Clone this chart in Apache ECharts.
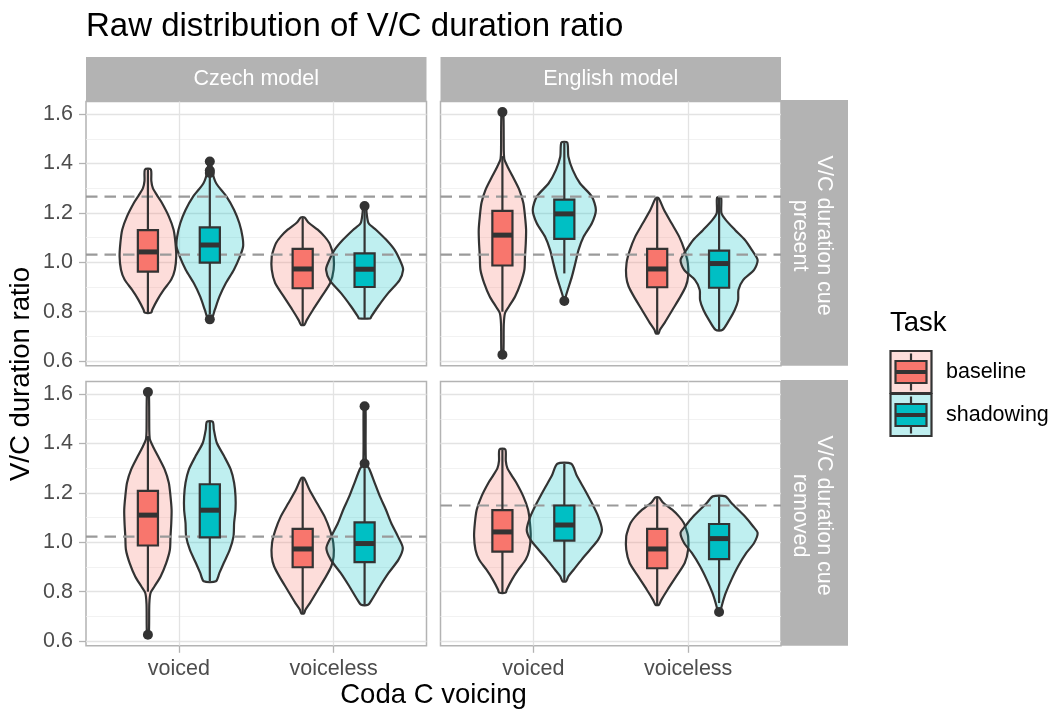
<!DOCTYPE html>
<html>
<head>
<meta charset="utf-8">
<script src="https://cdn.jsdelivr.net/npm/echarts@6/dist/echarts.min.js"></script>
<style>
  html, body { margin: 0; padding: 0; background: #ffffff; }
  #chart { width: 1053px; height: 712px; }
</style>
</head>
<body>
<div id="chart"></div>
<script>
// ---- facets, categories, ticks ----
const models = ['Czech model', 'English model'];
const cueLevels = ['V/C duration cue\npresent', 'V/C duration cue\nremoved'];
const voicings = ['voiced', 'voiceless'];
const tasks = ['baseline', 'shadowing'];
const yBreaks = [0.6, 0.8, 1.0, 1.2, 1.4, 1.6];
const yMinorBreaks = [0.7, 0.9, 1.1, 1.3, 1.5];

// dashed reference levels; panel order Czech/present, English/present, Czech/removed, English/removed
const refLevels = [[1.266, 1.031], [1.266, 1.031], [1.023], [1.149]];

// violin outlines: [ratio, half-width in x-axis units], top to bottom
const violinBaseVoicedA = [[1.376,0.019],[1.33,0.022],[1.30,0.032],[1.27,0.06],[1.241,0.09],[1.186,0.135],[1.132,0.166],[1.078,0.178],[1.024,0.183],[0.97,0.174],[0.93,0.151],[0.889,0.103],[0.849,0.062],[0.808,0.028],[0.797,0.022]];
const violinBaseVoicedB = [[1.608,0.006],[1.45,0.009],[1.416,0.013],[1.389,0.032],[1.349,0.065],[1.295,0.108],[1.241,0.135],[1.186,0.146],[1.132,0.153],[1.078,0.151],[1.024,0.146],[0.97,0.142],[0.916,0.118],[0.862,0.082],[0.822,0.043],[0.795,0.017],[0.75,0.009],[0.626,0.006]];
const violinBaseVoicelessA = [[1.182,0.011],[1.16,0.039],[1.132,0.097],[1.104,0.142],[1.078,0.172],[1.05,0.189],[1.024,0.2],[0.97,0.2],[0.916,0.178],[0.862,0.123],[0.808,0.067],[0.766,0.026],[0.747,0.011]];
const violinBaseVoicelessB = [[1.26,0.009],[1.214,0.043],[1.159,0.092],[1.104,0.142],[1.05,0.176],[0.997,0.198],[0.943,0.2],[0.903,0.185],[0.862,0.151],[0.808,0.099],[0.754,0.047],[0.726,0.017],[0.712,0.009]];
const violinShadCzPresVoiced = [[1.411,0.008],[1.374,0.013],[1.32,0.041],[1.266,0.108],[1.212,0.157],[1.158,0.191],[1.104,0.211],[1.064,0.215],[1.023,0.194],[0.969,0.155],[0.915,0.103],[0.861,0.062],[0.807,0.032],[0.769,0.011]];
const violinShadCzPresVoiceless = [[1.228,0.009],[1.2,0.013],[1.158,0.026],[1.131,0.075],[1.091,0.14],[1.05,0.194],[0.996,0.237],[0.969,0.249],[0.928,0.226],[0.874,0.151],[0.82,0.086],[0.78,0.043],[0.773,0.037]];
const violinShadEnPresVoiced = [[1.485,0.019],[1.428,0.026],[1.374,0.054],[1.32,0.101],[1.266,0.178],[1.212,0.204],[1.158,0.178],[1.104,0.125],[1.05,0.092],[0.996,0.071],[0.942,0.049],[0.888,0.022],[0.861,0.009],[0.843,0.006]];
const violinShadEnPresVoiceless = [[1.262,0.013],[1.2,0.015],[1.172,0.043],[1.131,0.103],[1.091,0.166],[1.05,0.211],[1.009,0.249],[0.969,0.226],[0.928,0.155],[0.888,0.125],[0.847,0.123],[0.807,0.101],[0.766,0.065],[0.726,0.022]];
const violinShadCzRemVoiced = [[1.488,0.019],[1.457,0.026],[1.403,0.045],[1.349,0.092],[1.295,0.135],[1.241,0.157],[1.186,0.166],[1.132,0.166],[1.078,0.157],[1.024,0.153],[0.97,0.129],[0.916,0.09],[0.876,0.062],[0.842,0.039]];
const violinShadCzRemVoiceless = [[1.551,0.006],[1.32,0.009],[1.295,0.032],[1.241,0.065],[1.186,0.099],[1.132,0.138],[1.078,0.172],[1.024,0.215],[0.977,0.247],[0.93,0.219],[0.876,0.155],[0.822,0.099],[0.768,0.047],[0.747,0.022]];
const violinShadEnRemVoiced = [[1.318,0.045],[1.268,0.082],[1.214,0.131],[1.159,0.178],[1.105,0.219],[1.051,0.243],[1.011,0.219],[0.97,0.166],[0.93,0.112],[0.889,0.06],[0.862,0.026],[0.842,0.011]];
const violinShadEnRemVoiceless = [[1.186,0.041],[1.159,0.08],[1.105,0.166],[1.065,0.219],[1.038,0.249],[0.997,0.226],[0.957,0.176],[0.903,0.123],[0.849,0.08],[0.795,0.043],[0.754,0.022],[0.727,0.011],[0.718,0.006]];

// box statistics: [lower whisker, Q1, median, Q3, upper whisker]
const boxBaseVoicedA = [0.797, 0.962, 1.042, 1.130, 1.376];
const boxBaseVoicedB = [0.80, 0.987, 1.110, 1.208, 1.43];
const boxBaseVoicelessA = [0.747, 0.895, 0.973, 1.054, 1.182];
const boxBaseVoicelessB = [0.712, 0.899, 0.973, 1.054, 1.26];
const boxShadCzPresVoiced = [0.79, 0.999, 1.070, 1.141, 1.35];
const boxShadCzPresVoiceless = [0.773, 0.900, 0.972, 1.036, 1.21];
const boxShadEnPresVoiced = [0.955, 1.095, 1.196, 1.254, 1.485];
const boxShadEnPresVoiceless = [0.726, 0.897, 0.995, 1.047, 1.262];
const boxShadCzRemVoiced = [0.842, 1.020, 1.130, 1.235, 1.488];
const boxShadCzRemVoiceless = [0.747, 0.920, 0.995, 1.081, 1.30];
const boxShadEnRemVoiced = [0.842, 1.007, 1.070, 1.149, 1.318];
const boxShadEnRemVoiceless = [0.754, 0.932, 1.015, 1.074, 1.186];

// outlying observations
const outBaseVoicedB = [0.626, 1.608];
const outShadCzPresVoiced = [0.769, 1.362, 1.372, 1.408];
const outShadCzPresVoiceless = [1.228];
const outShadEnPresVoiced = [0.843];
const outShadCzRemVoiceless = [1.319, 1.551];
const outShadEnRemVoiceless = [0.718];

// per panel: [voicing index, task index, outline, box, outliers]
const panelCells = [
  [ [0,0,violinBaseVoicedA,boxBaseVoicedA,[]], [0,1,violinShadCzPresVoiced,boxShadCzPresVoiced,outShadCzPresVoiced],
    [1,0,violinBaseVoicelessA,boxBaseVoicelessA,[]], [1,1,violinShadCzPresVoiceless,boxShadCzPresVoiceless,outShadCzPresVoiceless] ],
  [ [0,0,violinBaseVoicedB,boxBaseVoicedB,outBaseVoicedB], [0,1,violinShadEnPresVoiced,boxShadEnPresVoiced,outShadEnPresVoiced],
    [1,0,violinBaseVoicelessB,boxBaseVoicelessB,[]], [1,1,violinShadEnPresVoiceless,boxShadEnPresVoiceless,[]] ],
  [ [0,0,violinBaseVoicedB,boxBaseVoicedB,outBaseVoicedB], [0,1,violinShadCzRemVoiced,boxShadCzRemVoiced,[]],
    [1,0,violinBaseVoicelessB,boxBaseVoicelessB,[]], [1,1,violinShadCzRemVoiceless,boxShadCzRemVoiceless,outShadCzRemVoiceless] ],
  [ [0,0,violinBaseVoicedA,boxBaseVoicedA,[]], [0,1,violinShadEnRemVoiced,boxShadEnRemVoiced,[]],
    [1,0,violinBaseVoicelessA,boxBaseVoicelessA,[]], [1,1,violinShadEnRemVoiceless,boxShadEnRemVoiceless,outShadEnRemVoiceless] ]
];

// ---- styling ----
const FONT = "'Liberation Sans', Arial, sans-serif";
const FILL = ['#F8766D', '#00BFC4'];
const FILL_SOFT = ['rgba(248,118,109,0.25)', 'rgba(0,191,196,0.25)'];
const INK = '#333333';
const DODGE = 0.2;
const BOX_W = 0.13;
const X_MIN = 0.4, X_MAX = 2.6;
const Y_MIN = 0.581, Y_MAX = 1.651;
const COL_LEFT = [86, 440.5];
const ROW_TOP = [101.5, 381.5];
const P_W = 340.5, P_H = 264.3;

const cellX = (c) => (c[0] + 1) + (c[1] === 0 ? -DODGE : DODGE);

const chart = echarts.init(document.getElementById('chart'), null, { renderer: 'canvas' });

const grids = [], xAxes = [], yAxes = [], series = [];

for (let p = 0; p < 4; p++) {
  const col = p % 2, row = Math.floor(p / 2);
  const isBottom = row === 1, isLeft = col === 0;
  grids.push({
    left: COL_LEFT[col], top: ROW_TOP[row], width: P_W, height: P_H,
    show: true, backgroundColor: '#ffffff', borderColor: '#b3b3b3', borderWidth: 1.5,
    containLabel: false, outerBoundsMode: 'none'
  });
  xAxes.push({
    type: 'value', gridIndex: p, min: X_MIN, max: X_MAX,
    axisLine: { show: false },
    axisTick: { show: isBottom, customValues: [1, 2], length: 7, lineStyle: { color: '#b3b3b3', width: 1.3 } },
    axisLabel: {
      show: isBottom, customValues: [1, 2], margin: 12,
      formatter: (v) => voicings[Math.round(v) - 1],
      color: '#4d4d4d', fontSize: 21.5, fontFamily: FONT
    },
    splitLine: { show: true, lineStyle: { color: '#e3e3e3', width: 1.3 } }
  });
  yAxes.push({
    type: 'value', gridIndex: p, min: Y_MIN, max: Y_MAX,
    axisLine: { show: false },
    axisTick: { show: isLeft, customValues: yBreaks, length: 7, lineStyle: { color: '#b3b3b3', width: 1.3 } },
    axisLabel: {
      show: isLeft, customValues: yBreaks, margin: 13,
      formatter: (v) => v.toFixed(1),
      color: '#4d4d4d', fontSize: 21.5, fontFamily: FONT
    },
    splitLine: { show: true, lineStyle: { color: '#e3e3e3', width: 1.3 } }
  });
  yAxes.push({
    type: 'value', gridIndex: p, min: Y_MIN, max: Y_MAX,
    axisLine: { show: false },
    axisTick: { show: false, customValues: yMinorBreaks },
    axisLabel: { show: false, customValues: yMinorBreaks },
    splitLine: { show: true, lineStyle: { color: '#efefef', width: 0.8 } }
  });

  const cells = panelCells[p];

  // violins
  series.push({
    type: 'custom', xAxisIndex: p, yAxisIndex: 2 * p, z: 2, silent: true,
    data: cells.map((c) => [cellX(c), c[3][2]]),
    renderItem: (params, api) => {
      const c = cells[params.dataIndex];
      const x = cellX(c);
      const outline = c[2];
      const right = outline.map(([v, hw]) => api.coord([x + hw, v]));
      const left = outline.slice().reverse().map(([v, hw]) => api.coord([x - hw, v]));
      return {
        type: 'polygon',
        shape: { points: right.concat(left), smooth: 0.25 },
        style: { fill: FILL_SOFT[c[1]], stroke: INK, lineWidth: 2.2, lineJoin: 'round' }
      };
    }
  });

  // dashed reference levels
  series.push({
    type: 'custom', xAxisIndex: p, yAxisIndex: 2 * p, z: 3, silent: true,
    data: refLevels[p].map((v) => [X_MIN, v]),
    renderItem: (params, api) => {
      const v = refLevels[p][params.dataIndex];
      const a = api.coord([X_MIN, v]), b = api.coord([X_MAX, v]);
      return {
        type: 'line',
        shape: { x1: a[0], y1: a[1], x2: b[0], y2: b[1] },
        style: { stroke: '#9a9a9a', lineWidth: 2.2, lineDash: [11.5, 7] }
      };
    }
  });

  // box plots
  series.push({
    type: 'custom', xAxisIndex: p, yAxisIndex: 2 * p, z: 4, silent: true,
    data: cells.map((c) => [cellX(c), c[3][2]]),
    renderItem: (params, api) => {
      const c = cells[params.dataIndex];
      const x = cellX(c);
      const [lo, q1, med, q3, hi] = c[3];
      const pLo = api.coord([x, lo]), pQ1 = api.coord([x, q1]);
      const pQ3 = api.coord([x, q3]), pHi = api.coord([x, hi]);
      const tl = api.coord([x - BOX_W / 2, q3]), br = api.coord([x + BOX_W / 2, q1]);
      const ml = api.coord([x - BOX_W / 2, med]), mr = api.coord([x + BOX_W / 2, med]);
      const stroke = { stroke: INK, lineWidth: 2.2 };
      return {
        type: 'group',
        children: [
          { type: 'line', shape: { x1: pHi[0], y1: pHi[1], x2: pQ3[0], y2: pQ3[1] }, style: stroke },
          { type: 'line', shape: { x1: pQ1[0], y1: pQ1[1], x2: pLo[0], y2: pLo[1] }, style: stroke },
          { type: 'rect', shape: { x: tl[0], y: tl[1], width: br[0] - tl[0], height: br[1] - tl[1] },
            style: { fill: FILL[c[1]], stroke: INK, lineWidth: 2.2 } },
          { type: 'line', shape: { x1: ml[0], y1: ml[1], x2: mr[0], y2: mr[1] }, style: { stroke: INK, lineWidth: 5 } }
        ]
      };
    }
  });

  // outliers
  const pts = [];
  cells.forEach((c) => c[4].forEach((v) => pts.push([cellX(c), v])));
  series.push({
    type: 'scatter', xAxisIndex: p, yAxisIndex: 2 * p, z: 5, silent: true,
    symbol: 'circle', symbolSize: 10,
    itemStyle: { color: INK, opacity: 1 },
    data: pts
  });
}

// ---- strips, titles, legend ----
const graphics = [];
models.forEach((m, col) => {
  graphics.push({ type: 'rect', shape: { x: COL_LEFT[col], y: 57, width: P_W, height: ROW_TOP[0] - 57 },
    style: { fill: '#b3b3b3' }, silent: true });
  graphics.push({ type: 'text', x: COL_LEFT[col] + P_W / 2, y: 79.5, silent: true,
    style: { text: m, fill: '#ffffff', fontSize: 21.5, fontFamily: FONT,
      align: 'center', verticalAlign: 'middle', textAlign: 'center', textVerticalAlign: 'middle' } });
});
cueLevels.forEach((c, row) => {
  graphics.push({ type: 'rect', shape: { x: 781, y: ROW_TOP[row] - 1.5, width: 67, height: P_H + 1.5 },
    style: { fill: '#b3b3b3' }, silent: true });
  graphics.push({ type: 'text', x: 811.7, y: ROW_TOP[row] + P_H / 2 + 2, rotation: -Math.PI / 2, silent: true,
    style: { text: c, fill: '#ffffff', fontSize: 21.5, fontFamily: FONT, lineHeight: 23.5,
      align: 'center', verticalAlign: 'middle', textAlign: 'center', textVerticalAlign: 'middle' } });
});

graphics.push({ type: 'text', x: 86, y: 26.5, silent: true,
  style: { text: 'Raw distribution of V/C duration ratio', fill: '#000000', fontSize: 33, fontFamily: FONT,
    align: 'left', verticalAlign: 'middle', textAlign: 'left', textVerticalAlign: 'middle' } });
graphics.push({ type: 'text', x: 433.5, y: 695, silent: true,
  style: { text: 'Coda C voicing', fill: '#000000', fontSize: 27.5, fontFamily: FONT,
    align: 'center', verticalAlign: 'middle', textAlign: 'center', textVerticalAlign: 'middle' } });
graphics.push({ type: 'text', x: 21, y: 374, rotation: Math.PI / 2, silent: true,
  style: { text: 'V/C duration ratio', fill: '#000000', fontSize: 27.5, fontFamily: FONT,
    align: 'center', verticalAlign: 'middle', textAlign: 'center', textVerticalAlign: 'middle' } });

// legend
graphics.push({ type: 'text', x: 890, y: 323, silent: true,
  style: { text: 'Task', fill: '#000000', fontSize: 27.5, fontFamily: FONT,
    align: 'left', verticalAlign: 'middle', textAlign: 'left', textVerticalAlign: 'middle' } });
tasks.forEach((t, i) => {
  const top = 351 + i * 43;
  graphics.push({ type: 'rect', shape: { x: 890.5, y: top, width: 41, height: 42 }, silent: true,
    style: { fill: FILL_SOFT[i], stroke: INK, lineWidth: 2.2 } });
  graphics.push({ type: 'line', shape: { x1: 911, y1: top + 2.5, x2: 911, y2: top + 39.5 }, silent: true,
    style: { stroke: INK, lineWidth: 2.2 } });
  graphics.push({ type: 'rect', shape: { x: 895.5, y: top + 10, width: 31, height: 22 }, silent: true,
    style: { fill: FILL[i], stroke: INK, lineWidth: 2.2 } });
  graphics.push({ type: 'line', shape: { x1: 895.5, y1: top + 21, x2: 926.5, y2: top + 21 }, silent: true,
    style: { stroke: INK, lineWidth: 4 } });
  graphics.push({ type: 'text', x: 946, y: top + 21.5, silent: true,
    style: { text: t, fill: '#000000', fontSize: 21.5, fontFamily: FONT,
      align: 'left', verticalAlign: 'middle', textAlign: 'left', textVerticalAlign: 'middle' } });
});

chart.setOption({
  backgroundColor: '#ffffff',
  animation: false,
  grid: grids,
  xAxis: xAxes,
  yAxis: yAxes,
  series: series,
  graphic: { elements: graphics }
});
</script>
</body>
</html>
